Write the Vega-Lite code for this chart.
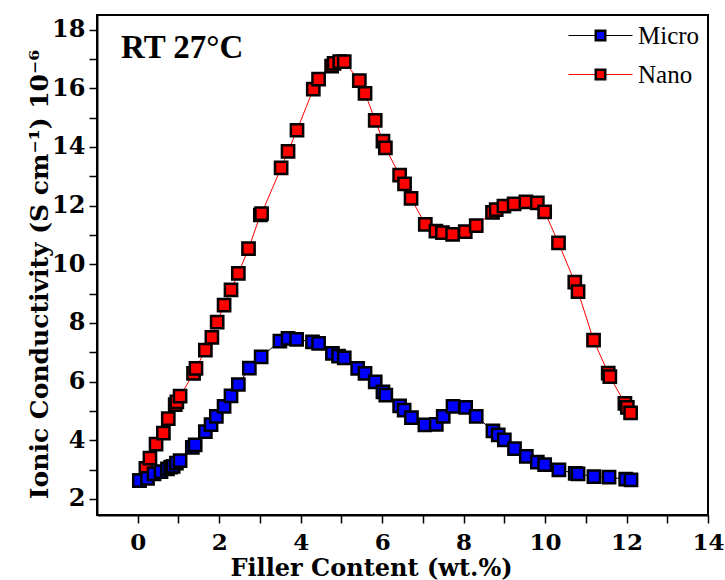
{
  "$schema": "https://vega.github.io/schema/vega-lite/v6.json",
  "width": 611,
  "height": 500,
  "autosize": {"type": "none"},
  "padding": {"left": 97, "top": 15, "right": 17, "bottom": 65},
  "background": "white",
  "title": {
    "text": "RT 27°C",
    "anchor": "start",
    "frame": "group",
    "orient": "top",
    "offset": -43,
    "dx": 24,
    "dy": 33,
    "baseline": "alphabetic",
    "font": "Liberation Serif",
    "fontSize": 33,
    "fontWeight": "bold",
    "color": "black"
  },
  "config": {
    "view": {"stroke": "black", "strokeWidth": 2},
    "axis": {
      "domainColor": "black",
      "domainWidth": 2,
      "tickColor": "black",
      "tickWidth": 1.5,
      "grid": false,
      "labelFont": "DejaVu Serif",
      "labelFontWeight": "bold",
      "labelFontSize": 24,
      "labelColor": "black",
      "labelFlush": false,
      "labelOverlap": false,
      "titleFont": "DejaVu Serif",
      "titleFontWeight": "bold",
      "titleFontSize": 24,
      "titleColor": "black"
    }
  },
  "data": {
    "values": [
      {"series": "Nano", "x": 0.04, "y": 2.62},
      {"series": "Nano", "x": 0.20, "y": 3.04},
      {"series": "Nano", "x": 0.30, "y": 3.39},
      {"series": "Nano", "x": 0.45, "y": 3.87},
      {"series": "Nano", "x": 0.63, "y": 4.24},
      {"series": "Nano", "x": 0.75, "y": 4.74},
      {"series": "Nano", "x": 0.92, "y": 5.21},
      {"series": "Nano", "x": 0.96, "y": 5.31},
      {"series": "Nano", "x": 1.04, "y": 5.50},
      {"series": "Nano", "x": 1.37, "y": 6.28},
      {"series": "Nano", "x": 1.43, "y": 6.45},
      {"series": "Nano", "x": 1.66, "y": 7.07},
      {"series": "Nano", "x": 1.82, "y": 7.51},
      {"series": "Nano", "x": 1.95, "y": 8.03},
      {"series": "Nano", "x": 2.12, "y": 8.61},
      {"series": "Nano", "x": 2.29, "y": 9.13},
      {"series": "Nano", "x": 2.47, "y": 9.69},
      {"series": "Nano", "x": 2.72, "y": 10.53},
      {"series": "Nano", "x": 3.01, "y": 11.68},
      {"series": "Nano", "x": 3.04, "y": 11.73},
      {"series": "Nano", "x": 3.52, "y": 13.29},
      {"series": "Nano", "x": 3.69, "y": 13.85},
      {"series": "Nano", "x": 3.91, "y": 14.57},
      {"series": "Nano", "x": 4.31, "y": 15.97},
      {"series": "Nano", "x": 4.44, "y": 16.31},
      {"series": "Nano", "x": 4.76, "y": 16.76},
      {"series": "Nano", "x": 4.82, "y": 16.85},
      {"series": "Nano", "x": 4.96, "y": 16.91},
      {"series": "Nano", "x": 5.07, "y": 16.91},
      {"series": "Nano", "x": 5.44, "y": 16.26},
      {"series": "Nano", "x": 5.58, "y": 15.83},
      {"series": "Nano", "x": 5.83, "y": 14.91},
      {"series": "Nano", "x": 6.02, "y": 14.20},
      {"series": "Nano", "x": 6.08, "y": 13.97},
      {"series": "Nano", "x": 6.43, "y": 13.04},
      {"series": "Nano", "x": 6.55, "y": 12.74},
      {"series": "Nano", "x": 6.71, "y": 12.25},
      {"series": "Nano", "x": 7.06, "y": 11.36},
      {"series": "Nano", "x": 7.32, "y": 11.13},
      {"series": "Nano", "x": 7.48, "y": 11.08},
      {"series": "Nano", "x": 7.73, "y": 11.02},
      {"series": "Nano", "x": 8.04, "y": 11.11},
      {"series": "Nano", "x": 8.31, "y": 11.32},
      {"series": "Nano", "x": 8.71, "y": 11.77},
      {"series": "Nano", "x": 8.80, "y": 11.86},
      {"series": "Nano", "x": 8.99, "y": 11.98},
      {"series": "Nano", "x": 9.24, "y": 12.06},
      {"series": "Nano", "x": 9.53, "y": 12.13},
      {"series": "Nano", "x": 9.81, "y": 12.09},
      {"series": "Nano", "x": 9.99, "y": 11.79},
      {"series": "Nano", "x": 10.33, "y": 10.73},
      {"series": "Nano", "x": 10.73, "y": 9.39},
      {"series": "Nano", "x": 10.81, "y": 9.07},
      {"series": "Nano", "x": 11.19, "y": 7.41},
      {"series": "Nano", "x": 11.55, "y": 6.29},
      {"series": "Nano", "x": 11.59, "y": 6.17},
      {"series": "Nano", "x": 11.96, "y": 5.26},
      {"series": "Nano", "x": 12.02, "y": 5.12},
      {"series": "Nano", "x": 12.10, "y": 4.93},
      {"series": "Micro", "x": 0.04, "y": 2.62},
      {"series": "Micro", "x": 0.24, "y": 2.70},
      {"series": "Micro", "x": 0.40, "y": 2.85},
      {"series": "Micro", "x": 0.57, "y": 2.93},
      {"series": "Micro", "x": 0.73, "y": 3.02},
      {"series": "Micro", "x": 0.81, "y": 3.08},
      {"series": "Micro", "x": 0.87, "y": 3.11},
      {"series": "Micro", "x": 0.95, "y": 3.22},
      {"series": "Micro", "x": 1.04, "y": 3.30},
      {"series": "Micro", "x": 1.34, "y": 3.76},
      {"series": "Micro", "x": 1.41, "y": 3.84},
      {"series": "Micro", "x": 1.66, "y": 4.29},
      {"series": "Micro", "x": 1.80, "y": 4.53},
      {"series": "Micro", "x": 1.93, "y": 4.81},
      {"series": "Micro", "x": 2.12, "y": 5.15},
      {"series": "Micro", "x": 2.29, "y": 5.51},
      {"series": "Micro", "x": 2.47, "y": 5.90},
      {"series": "Micro", "x": 2.74, "y": 6.46},
      {"series": "Micro", "x": 3.03, "y": 6.84},
      {"series": "Micro", "x": 3.49, "y": 7.38},
      {"series": "Micro", "x": 3.69, "y": 7.47},
      {"series": "Micro", "x": 3.90, "y": 7.44},
      {"series": "Micro", "x": 4.29, "y": 7.35},
      {"series": "Micro", "x": 4.44, "y": 7.30},
      {"series": "Micro", "x": 4.78, "y": 6.96},
      {"series": "Micro", "x": 4.93, "y": 6.87},
      {"series": "Micro", "x": 5.07, "y": 6.81},
      {"series": "Micro", "x": 5.40, "y": 6.45},
      {"series": "Micro", "x": 5.58, "y": 6.28},
      {"series": "Micro", "x": 5.83, "y": 5.99},
      {"series": "Micro", "x": 6.02, "y": 5.65},
      {"series": "Micro", "x": 6.09, "y": 5.54},
      {"series": "Micro", "x": 6.43, "y": 5.17},
      {"series": "Micro", "x": 6.54, "y": 5.03},
      {"series": "Micro", "x": 6.72, "y": 4.77},
      {"series": "Micro", "x": 7.05, "y": 4.52},
      {"series": "Micro", "x": 7.33, "y": 4.54},
      {"series": "Micro", "x": 7.50, "y": 4.81},
      {"series": "Micro", "x": 7.74, "y": 5.15},
      {"series": "Micro", "x": 8.05, "y": 5.12},
      {"series": "Micro", "x": 8.31, "y": 4.81},
      {"series": "Micro", "x": 8.72, "y": 4.32},
      {"series": "Micro", "x": 8.85, "y": 4.18},
      {"series": "Micro", "x": 9.00, "y": 4.01},
      {"series": "Micro", "x": 9.25, "y": 3.71},
      {"series": "Micro", "x": 9.54, "y": 3.45},
      {"series": "Micro", "x": 9.81, "y": 3.25},
      {"series": "Micro", "x": 9.99, "y": 3.17},
      {"series": "Micro", "x": 10.34, "y": 2.99},
      {"series": "Micro", "x": 10.74, "y": 2.87},
      {"series": "Micro", "x": 10.81, "y": 2.85},
      {"series": "Micro", "x": 11.20, "y": 2.76},
      {"series": "Micro", "x": 11.57, "y": 2.74},
      {"series": "Micro", "x": 11.98, "y": 2.67},
      {"series": "Micro", "x": 12.11, "y": 2.65}
    ]
  },
  "encoding": {
    "x": {
      "field": "x",
      "type": "quantitative",
      "scale": {"domain": [-1, 14], "nice": false, "zero": false},
      "axis": {
        "title": "Filler Content (wt.%)",
        "values": [0, 1, 2, 3, 4, 5, 6, 7, 8, 9, 10, 11, 12, 13, 14],
        "labelExpr": "datum.value % 2 === 0 ? datum.label : ''",
        "tickSize": 8,
        "labelPadding": 8,
        "labelFontSize": 23,
        "titleX": 274,
        "titleY": 60,
        "titleFontSize": 24,
        "titleBaseline": "alphabetic",
        "titleAlign": "center",
        "encode": {"ticks": {"update": {"y2": {"signal": "datum.value % 2 === 0 ? -8 : -4"}}}}
      }
    },
    "y": {
      "field": "y",
      "type": "quantitative",
      "scale": {"domain": [1.45, 18.5], "nice": false, "zero": false},
      "axis": {
        "title": "Ionic Conductivity (S cm⁻¹) 10⁻⁶",
        "values": [2, 3, 4, 5, 6, 7, 8, 9, 10, 11, 12, 13, 14, 15, 16, 17, 18],
        "labelExpr": "datum.value % 2 === 0 ? datum.label : ''",
        "tickSize": 8,
        "labelPadding": 4,
        "titleX": -58,
        "titleY": 259,
        "titleFontSize": 25,
        "titleAngle": 270,
        "titleAlign": "center",
        "titleBaseline": "middle",
        "encode": {"ticks": {"update": {"x2": {"signal": "datum.value % 2 === 0 ? 8 : 4"}}}}
      }
    }
  },
  "layer": [
    {
      "mark": {"type": "line", "strokeWidth": 1},
      "encoding": {
        "stroke": {
          "field": "series",
          "type": "nominal",
          "scale": {"domain": ["Micro", "Nano"], "range": ["black", "#ff0000"]},
          "legend": {
            "orient": "none",
            "legendX": 491,
            "legendY": 8,
            "title": null,
            "symbolType": "M-6.75,0H6.75",
            "symbolSize": 90,
            "symbolStrokeWidth": 1,
            "labelFont": "Liberation Serif",
            "labelFontSize": 25,
            "labelOpacity": 0,
            "labelOffset": 25,
            "rowPadding": 13,
            "padding": 0,
            "zindex": 1
          }
        }
      }
    },
    {
      "mark": {"type": "point", "shape": "square", "filled": true, "size": 150, "stroke": "black", "strokeWidth": 2.5, "opacity": 1},
      "encoding": {
        "fill": {
          "field": "series",
          "type": "nominal",
          "scale": {"range": ["#0000ff", "#ff0000"]},
          "legend": {
            "orient": "none",
            "legendX": 491,
            "legendY": 8,
            "title": null,
            "symbolType": "square",
            "symbolSize": 90,
            "symbolStrokeColor": "black",
            "symbolStrokeWidth": 2.5,
            "symbolOpacity": 1,
            "labelFont": "Liberation Serif",
            "labelFontSize": 25,
            "labelColor": "black",
            "labelOffset": 25,
            "rowPadding": 13,
            "padding": 0,
            "zindex": 2
          }
        }
      }
    }
  ]
}
